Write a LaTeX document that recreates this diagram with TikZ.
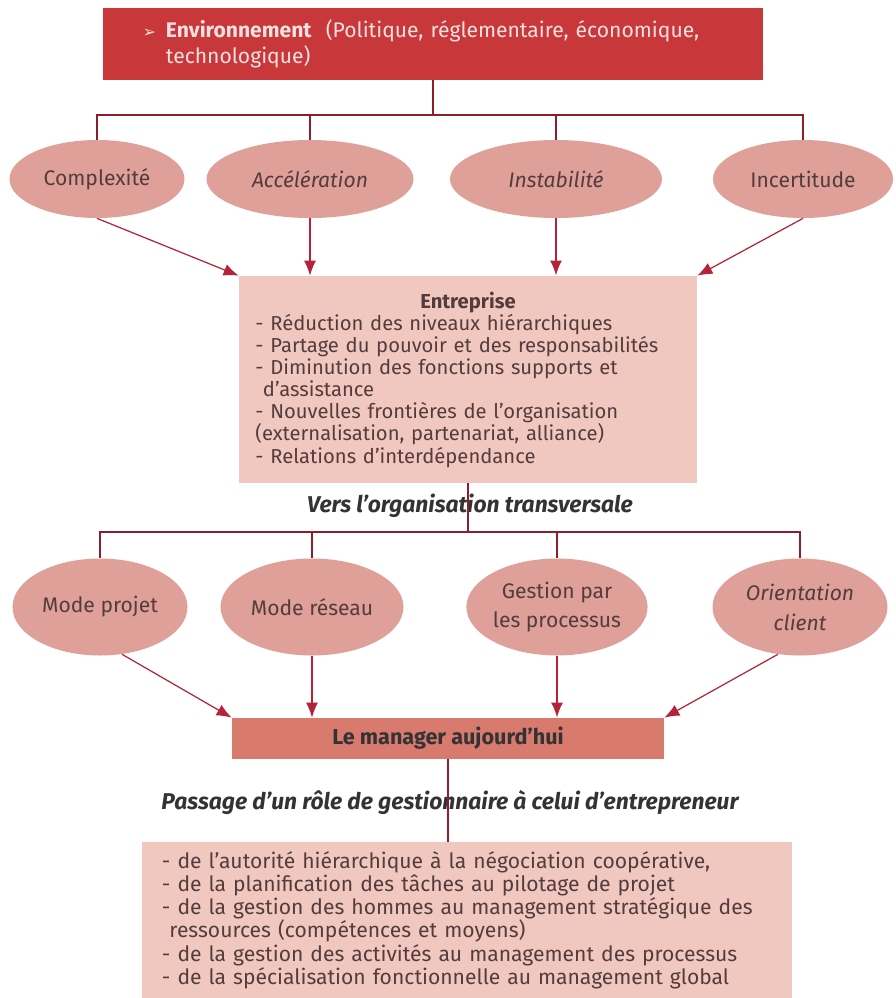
\documentclass[tikz,border=0pt]{standalone}
\usepackage{fontspec}
\setmainfont{Fira Sans}
\newfontfamily\symfont{DejaVu Sans}
\usetikzlibrary{shapes.geometric,arrows.meta}

\definecolor{envred}{RGB}{200,55,58}
\definecolor{envtext}{RGB}{250,225,225}
\definecolor{bullepink}{RGB}{222,160,152}
\definecolor{boxpink}{RGB}{240,200,192}
\definecolor{managerred}{RGB}{217,122,110}
\definecolor{linered}{RGB}{140,30,45}
\definecolor{arrowred}{RGB}{180,35,55}
\definecolor{textgray}{RGB}{85,60,60}

\tikzset{
  envbox/.style={rectangle, fill=envred, text=envtext, minimum width=132mm, minimum height=14.4mm,
    inner xsep=8mm, text width=116mm, align=left, font=\fontsize{12}{14.8}\selectfont},
  bulle/.style={ellipse, fill=bullepink, text=textgray, inner sep=0pt, align=center,
    minimum height=15.6mm, font=\fontsize{12}{17}\selectfont},
  bulletall/.style={bulle, minimum height=19.4mm},
  textbox/.style={rectangle, fill=boxpink, text=textgray, align=left, font=\fontsize{11.5}{12.6}\selectfont},
  managerbox/.style={rectangle, fill=managerred, text=black!80, minimum width=86.4mm, minimum height=8.2mm,
    font=\bfseries\fontsize{12.3}{14}\selectfont},
  titre/.style={text=black!80, font=\bfseries\itshape\fontsize{13}{15}\selectfont},
  lien/.style={draw=linered, line width=0.6pt},
  lienfort/.style={draw=linered, line width=1.1pt},
  fleche/.style={draw=arrowred, line width=0.7pt, -{Latex[length=3mm,width=2.4mm]}},
  flechefort/.style={fleche, line width=1.2pt}
}

\begin{document}
\begin{tikzpicture}[x=0.2mm, y=-0.2mm]
  \useasboundingbox (0,0) rectangle (896,998);

  \node[envbox] (env) at (433,44)
    {\makebox[4.6mm][l]{\symfont\small ➢}\textbf{Environnement}\ \ (Politique, réglementaire, économique,\\
     \hspace*{4.6mm}technologique)};

  \node[bulle, minimum width=35mm] (complexite) at (97,179) {Complexité};
  \node[bulle, minimum width=41.4mm] (acceleration) at (310,179) {\itshape Accélération};
  \node[bulle, minimum width=42.4mm] (instabilite) at (556,179) {\itshape Instabilité};
  \node[bulle, minimum width=36mm] (incertitude) at (803,179) {Incertitude};

  \coordinate (bar1) at (433,115);
  \draw[lien] (env.south) -- (bar1);
  \draw[lien] (complexite.north) |- (incertitude.north |- bar1) -- (incertitude.north);
  \draw[lien] (acceleration.north) -- (acceleration.north |- bar1);
  \draw[lienfort] (instabilite.north) -- (instabilite.north |- bar1);

  \node[textbox, minimum width=91.6mm, minimum height=41.4mm, text width=85mm, inner xsep=3.3mm] (entreprise) at (468,379.5)
    {{\centering\bfseries Entreprise\par}
     - Réduction des niveaux hiérarchiques\\
     - Partage du pouvoir et des responsabilités\\
     - Diminution des fonctions supports et\\
     \hspace*{1.5mm}d’assistance\\
     - Nouvelles frontières de l’organisation\\
     (externalisation, partenariat, alliance)\\
     - Relations d’interdépendance};

  \draw[fleche] (complexite.south) -- (entreprise.north west);
  \draw[fleche] (acceleration.south) -- (acceleration.south |- entreprise.north);
  \draw[flechefort] (instabilite.south) -- (instabilite.south |- entreprise.north);
  \draw[fleche] (incertitude.south) -- (entreprise.north east);

  \node[titre] (vers) at (470,506) {Vers l’organisation transversale};

  \node[bulletall, minimum width=35mm] (projet) at (100,607) {Mode projet};
  \node[bulletall, minimum width=36.6mm] (reseau) at (312,607) {Mode réseau};
  \node[bulletall, minimum width=35.4mm] (processus) at (557,607) {Gestion par\\les processus};
  \node[bulletall, minimum width=35mm] (orientation) at (800,607) {\itshape Orientation\\\itshape client};

  \coordinate (bar2) at (entreprise.south |- 0,532);
  \draw[lien] (entreprise.south) -- (bar2);
  \draw[lien] (projet.north) |- (orientation.north |- bar2) -- (orientation.north);
  \draw[lien] (reseau.north) -- (reseau.north |- bar2);
  \draw[lienfort] (processus.north) -- (processus.north |- bar2);

  \node[managerbox] (manager) at (448,738.5) {Le manager aujourd’hui};

  \draw[fleche] (projet.-65) -- (manager.north west);
  \draw[fleche] (reseau.south) -- (reseau.south |- manager.north);
  \draw[flechefort] (processus.south) -- (processus.south |- manager.north);
  \draw[fleche] (orientation.-115) -- (manager.north east);

  \node[titre] (passage) at (450,802) {Passage d’un rôle de gestionnaire à celui d’entrepreneur};

  \node[textbox, minimum width=130mm, minimum height=31.2mm, text width=122mm, inner xsep=4mm,
        font=\fontsize{12}{13.2}\selectfont] (bas) at (467,920)
    {- de l’autorité hiérarchique à la négociation coopérative,\\
     - de la planification des tâches au pilotage de projet\\
     - de la gestion des hommes au management stratégique des\\
     \hspace*{1.5mm}ressources (compétences et moyens)\\
     - de la gestion des activités au management des processus\\
     - de la spécialisation fonctionnelle au management global};

  \draw[lien] (manager.south) -- (manager.south |- bas.north);
\end{tikzpicture}
\end{document}
